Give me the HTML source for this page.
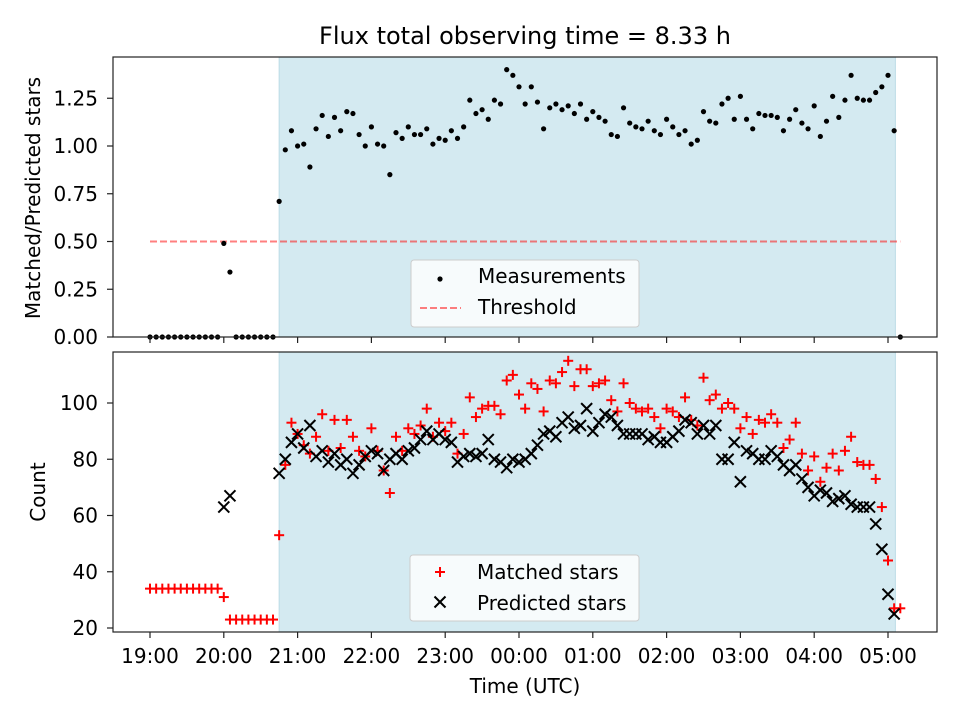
<!DOCTYPE html>
<html><head><meta charset="utf-8"><style>
body{margin:0;background:#fff;}
svg text{font-family:"DejaVu Sans","Liberation Sans",sans-serif;fill:#000;}
</style></head><body>
<svg id="chart" width="960" height="720" xmlns="http://www.w3.org/2000/svg">
<rect width="960" height="720" fill="#fff"/>
<text x="525" y="44" font-size="24" text-anchor="middle">Flux total observing time = 8.33 h</text>
<g id="topPanel"></g>
<g id="botPanel"></g>
<text transform="translate(40,198) rotate(-90)" font-size="20" text-anchor="middle">Matched/Predicted stars</text>
<text transform="translate(45,492) rotate(-90)" font-size="20" text-anchor="middle">Count</text>
<text x="525" y="693" font-size="20" text-anchor="middle">Time (UTC)</text>
</svg>
<script>
// time index k -> minutes after 19:00 = 5*k
const ratio = [0,0,0,0,0,0,0,0,0,0,0,0,0.49,0.34,0,0,0,0,0,0,0,
0.71,0.98,1.08,1.00,1.01,0.89,1.09,1.16,1.05,1.15,1.08,1.18,1.17,1.06,1.00,1.10,1.01,1.00,0.85,1.07,1.04,1.10,1.06,1.06,1.09,1.01,1.04,1.03,1.08,1.04,1.10,1.24,1.17,1.19,1.14,
1.24,1.22,1.40,1.37,1.31,1.22,1.31,1.23,1.09,1.20,1.22,1.19,1.21,1.17,1.22,1.14,1.18,1.15,1.13,1.06,1.05,1.20,1.12,1.10,1.09,1.13,1.08,1.06,1.14,1.10,1.06,1.08,1.01,1.03,
1.18,1.13,1.12,1.22,1.25,1.14,1.26,1.14,1.09,1.17,1.16,1.16,1.15,1.08,1.14,1.19,1.12,1.09,1.21,1.05,1.13,1.26,1.15,1.24,1.37,1.25,1.24,1.24,1.28,1.31,1.37,1.08,0];
const matched = [34,34,34,34,34,34,34,34,34,34,34,34,31,23,23,23,23,23,23,23,23,
53,78,93,89,85,82,88,96,83,94,84,94,88,83,81,91,83,76,68,88,83,91,89,92,98,88,93,90,93,82,89,102,95,98,99,
99,96,108,110,103,98,107,105,97,108,107,111,115,106,112,112,106,107,108,101,97,107,100,98,97,98,95,91,98,97,95,102,94,92,
109,101,103,98,100,98,91,95,89,94,93,96,93,84,87,93,82,76,81,72,77,82,76,83,88,79,78,78,73,63,44,27,27];
const predicted = [null,null,null,null,null,null,null,null,null,null,null,null,63,67,null,null,null,null,null,null,null,
75,80,86,89,84,92,81,83,79,82,78,80,75,78,81,83,82,76,80,82,80,83,84,87,90,87,89,87,86,79,81,82,81,82,87,
80,79,77,80,79,80,82,85,89,90,88,93,95,91,92,98,90,93,96,95,92,89,89,89,89,87,88,86,86,88,90,94,93,89,
92,89,92,80,80,86,72,83,82,80,80,83,81,78,76,78,73,70,67,69,68,65,66,67,64,63,63,63,57,48,32,25,null];
const xTickLabels = ["19:00","20:00","21:00","22:00","23:00","00:00","01:00","02:00","03:00","04:00","05:00"];
const topTicks = [0,0.25,0.5,0.75,1.0,1.25];
const botTicks = [20,40,60,80,100];
const threshold = 0.5;
const shadeStart = 105, shadeEnd = 606; // minutes after 19:00

const NS="http://www.w3.org/2000/svg";
const L=113,R=937;
const FS=20;
const xs = m => 150 + (m/60)*73.8;
const yTop = v => 337 - v*191;
const yBot = v => 628 - (v-20)*2.8125;
function mk(tag,attrs,parent){const e=document.createElementNS(NS,tag);for(const k in attrs)e.setAttribute(k,attrs[k]);parent.appendChild(e);return e;}

function panel(g,y0,y1,name){
  const bg=mk('rect',{x:xs(shadeStart),y:y0,width:xs(shadeEnd)-xs(shadeStart),height:y1-y0,fill:'#d4eaf1',stroke:'#bcdce6','stroke-width':1},g);
  
  
}
function frame(g,y0,y1,labels,name){
  const f=mk('rect',{x:L,y:y0,width:R-L,height:y1-y0,fill:'none',stroke:'#222','stroke-width':1.2},g);
  
  
  xTickLabels.forEach((lab,i)=>{
    const x=xs(i*60);
    mk('line',{x1:x,x2:x,y1:y1,y2:y1+6,stroke:'#222','stroke-width':1.2},g);
    if(labels){
      const t=mk('text',{x:x,y:y1+31,'font-size':FS,'text-anchor':'middle'},g);
      t.textContent=lab;
      
      
    }
  });
}

// top panel
const topG=document.getElementById('topPanel');
panel(topG,57,337,'top');
const th=mk('line',{x1:xs(0),x2:xs(610),y1:yTop(threshold),y2:yTop(threshold),stroke:'rgba(255,0,0,0.5)','stroke-width':2,'stroke-dasharray':'7,3'},topG);


ratio.forEach((v,k)=>{
  const c=mk('circle',{cx:xs(5*k),cy:yTop(v),r:2.6,fill:'#000'},topG);
  
  
});
frame(topG,57,337,false,'top');
topTicks.forEach(v=>{
  const y=yTop(v);
  mk('line',{x1:L-6,x2:L,y1:y,y2:y,stroke:'#222','stroke-width':1.2},topG);
  const t=mk('text',{x:L-15,y:y+7,'font-size':FS,'text-anchor':'end'},topG);
  t.textContent=v.toFixed(2);
  
  
});
// top legend
const lg1=mk('g',{},topG);


mk('rect',{x:411,y:260,width:228,height:67,rx:3,fill:'rgba(255,255,255,0.8)',stroke:'#cccccc'},lg1);
mk('circle',{cx:440,cy:279,r:2.6,fill:'#000'},lg1);
let t=mk('text',{x:478,y:283,'font-size':FS},lg1);t.textContent='Measurements';
mk('line',{x1:420,x2:461,y1:308,y2:308,stroke:'rgba(255,0,0,0.5)','stroke-width':2,'stroke-dasharray':'7,3'},lg1);
t=mk('text',{x:478,y:314,'font-size':FS},lg1);t.textContent='Threshold';

// bottom panel
const botG=document.getElementById('botPanel');
panel(botG,352,632,'bottom');
function plus(x,y,parent){
  const g=mk('g',{stroke:'#ff0000','stroke-width':2},parent);
  mk('line',{x1:x-5,x2:x+5,y1:y,y2:y},g);mk('line',{x1:x,x2:x,y1:y-5,y2:y+5},g);
  return g;
}
function cross(x,y,parent){
  const g=mk('g',{stroke:'#000','stroke-width':2},parent);
  mk('line',{x1:x-5.5,x2:x+5.5,y1:y-5.5,y2:y+5.5},g);mk('line',{x1:x-5.5,x2:x+5.5,y1:y+5.5,y2:y-5.5},g);
  return g;
}
matched.forEach((v,k)=>{
  if(v==null)return;
  const g=plus(xs(5*k),yBot(v),botG);
  
  
});
predicted.forEach((v,k)=>{
  if(v==null)return;
  const g=cross(xs(5*k),yBot(v),botG);
  
  
});
frame(botG,352,632,true,'bottom');
botTicks.forEach(v=>{
  const y=yBot(v);
  mk('line',{x1:L-6,x2:L,y1:y,y2:y,stroke:'#222','stroke-width':1.2},botG);
  const t=mk('text',{x:L-15,y:y+7,'font-size':FS,'text-anchor':'end'},botG);
  t.textContent=String(v);
  
  
});
const lg2=mk('g',{},botG);


mk('rect',{x:410,y:555,width:229,height:66,rx:3,fill:'rgba(255,255,255,0.8)',stroke:'#cccccc'},lg2);
plus(440,572,lg2);
t=mk('text',{x:477,y:579,'font-size':FS},lg2);t.textContent='Matched stars';
cross(440,602,lg2);
t=mk('text',{x:477,y:610,'font-size':FS},lg2);t.textContent='Predicted stars';
</script>
</body></html>
